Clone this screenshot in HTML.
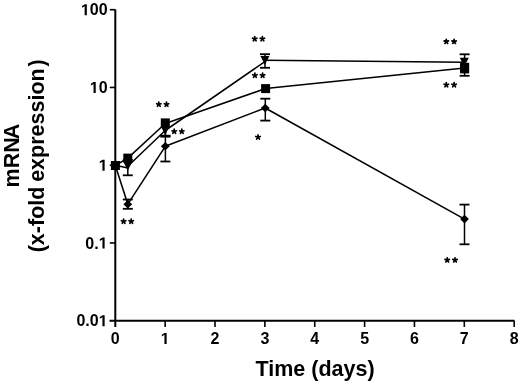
<!DOCTYPE html>
<html><head><meta charset="utf-8"><style>
html,body{margin:0;padding:0;background:#fff;width:520px;height:385px;overflow:hidden}
svg{display:block;will-change:transform}
</style></head><body>
<svg width="520" height="385" viewBox="0 0 520 385">
<rect width="520" height="385" fill="#fff"/>
<g stroke="#000" fill="none">
<line x1="115.3" y1="9.6" x2="115.3" y2="327" stroke-width="2"/>
<line x1="109.5" y1="320.8" x2="514.5" y2="320.8" stroke-width="2"/>
<line x1="109.8" y1="9.70" x2="115.3" y2="9.70" stroke-width="1.6"/>
<line x1="109.8" y1="87.45" x2="115.3" y2="87.45" stroke-width="1.6"/>
<line x1="109.8" y1="165.20" x2="115.3" y2="165.20" stroke-width="1.6"/>
<line x1="109.8" y1="242.95" x2="115.3" y2="242.95" stroke-width="1.6"/>
<line x1="165.16" y1="320.8" x2="165.16" y2="327" stroke-width="1.6"/>
<line x1="215.02" y1="320.8" x2="215.02" y2="327" stroke-width="1.6"/>
<line x1="264.88" y1="320.8" x2="264.88" y2="327" stroke-width="1.6"/>
<line x1="314.74" y1="320.8" x2="314.74" y2="327" stroke-width="1.6"/>
<line x1="364.60" y1="320.8" x2="364.60" y2="327" stroke-width="1.6"/>
<line x1="414.46" y1="320.8" x2="414.46" y2="327" stroke-width="1.6"/>
<line x1="464.32" y1="320.8" x2="464.32" y2="327" stroke-width="1.6"/>
<line x1="514.18" y1="320.8" x2="514.18" y2="327" stroke-width="1.6"/>
</g>
<g stroke="#000" fill="none" stroke-width="1.55" stroke-linejoin="round">
<polyline points="115.30,165.30 127.80,167.90"/>
<polyline points="127.80,166.20 165.20,130.50 264.90,61.60"/>
<polyline points="264.90,60.20 464.30,62.20"/>
<polyline points="115.40,165.50 127.80,158.10 165.30,123.50 265.60,88.60 464.60,68.00"/>
<polyline points="115.30,165.30 127.80,204.20 165.30,146.30 265.20,108.00 464.50,219.10"/>
</g>
<g stroke="#000" stroke-width="1.5">
<line x1="127.8" y1="160.0" x2="127.8" y2="175.3"/>
<line x1="122.80" y1="160.0" x2="132.80" y2="160.0" stroke-width="1.8"/>
<line x1="122.80" y1="175.3" x2="132.80" y2="175.3" stroke-width="1.8"/>
<line x1="127.8" y1="199.5" x2="127.8" y2="208.8"/>
<line x1="122.80" y1="199.5" x2="132.80" y2="199.5" stroke-width="1.8"/>
<line x1="122.80" y1="208.8" x2="132.80" y2="208.8" stroke-width="1.8"/>
<line x1="165.4" y1="135.9" x2="165.4" y2="161.5"/>
<line x1="160.40" y1="135.9" x2="170.40" y2="135.9" stroke-width="1.8"/>
<line x1="160.40" y1="161.5" x2="170.40" y2="161.5" stroke-width="1.8"/>
<line x1="165.4" y1="130.0" x2="165.4" y2="135.7"/>
<line x1="160.40" y1="135.7" x2="170.40" y2="135.7" stroke-width="1.8"/>
<line x1="165.4" y1="130.0" x2="165.4" y2="136.7"/>
<line x1="160.40" y1="136.7" x2="170.40" y2="136.7" stroke-width="1.8"/>
<line x1="265.0" y1="54.2" x2="265.0" y2="67.8"/>
<line x1="260.00" y1="54.2" x2="270.00" y2="54.2" stroke-width="1.8"/>
<line x1="260.00" y1="67.8" x2="270.00" y2="67.8" stroke-width="1.8"/>
<line x1="265.3" y1="98.7" x2="265.3" y2="120.6"/>
<line x1="260.30" y1="98.7" x2="270.30" y2="98.7" stroke-width="1.8"/>
<line x1="260.30" y1="120.6" x2="270.30" y2="120.6" stroke-width="1.8"/>
<line x1="464.6" y1="54.3" x2="464.6" y2="75.8"/>
<line x1="459.60" y1="54.3" x2="469.60" y2="54.3" stroke-width="1.8"/>
<line x1="459.60" y1="75.8" x2="469.60" y2="75.8" stroke-width="1.8"/>
<line x1="464.5" y1="204.6" x2="464.5" y2="244.3"/>
<line x1="459.50" y1="204.6" x2="469.50" y2="204.6" stroke-width="1.8"/>
<line x1="459.50" y1="244.3" x2="469.50" y2="244.3" stroke-width="1.8"/>
</g>
<g fill="#000">
<path d="M110.80,160.90L119.80,160.90L115.30,169.70Z"/>
<path d="M123.30,161.80L132.30,161.80L127.80,170.60Z"/>
<path d="M160.70,126.10L169.70,126.10L165.20,134.90Z"/>
<path d="M260.40,55.90L269.40,55.90L264.90,64.70Z"/>
<path d="M459.80,57.80L468.80,57.80L464.30,66.60Z"/>
<rect x="460.1" y="62.8" width="9" height="10.6"/>
<rect x="110.90" y="161.00" width="9.0" height="9.0"/>
<rect x="123.30" y="153.60" width="9.0" height="9.0"/>
<rect x="160.80" y="118.40" width="9.0" height="9.0"/>
<rect x="261.10" y="84.10" width="9.0" height="9.0"/>
<rect x="460.10" y="63.50" width="9.0" height="9.0"/>
<path d="M110.90,165.30L115.30,161.00L119.70,165.30L115.30,169.60Z"/>
<path d="M123.40,204.20L127.80,199.90L132.20,204.20L127.80,208.50Z"/>
<path d="M160.90,146.30L165.30,142.00L169.70,146.30L165.30,150.60Z"/>
<path d="M260.80,108.00L265.20,103.70L269.60,108.00L265.20,112.30Z"/>
<path d="M460.10,219.10L464.50,214.80L468.90,219.10L464.50,223.40Z"/>
</g>
<g font-family="Liberation Sans, sans-serif" font-weight="bold" fill="#000">
<text y="15.30" font-size="16"><tspan x="89.80">0</tspan><tspan x="98.70">0</tspan></text>
<text y="93.05" font-size="16"><tspan x="98.70">0</tspan></text>
<text y="248.55" font-size="16"><tspan x="85.36">0</tspan><tspan x="94.26">.</tspan></text>
<text y="326.30" font-size="16"><tspan x="76.46">0</tspan><tspan x="85.36">.</tspan><tspan x="89.80">0</tspan></text>
<text y="344.00" font-size="16"><tspan x="110.85">0</tspan></text>
<text y="344.00" font-size="16"><tspan x="210.57">2</tspan></text>
<text y="344.00" font-size="16"><tspan x="260.43">3</tspan></text>
<text y="344.00" font-size="16"><tspan x="310.29">4</tspan></text>
<text y="344.00" font-size="16"><tspan x="360.15">5</tspan></text>
<text y="344.00" font-size="16"><tspan x="410.01">6</tspan></text>
<text y="344.00" font-size="16"><tspan x="459.87">7</tspan></text>
<text y="344.00" font-size="16"><tspan x="509.73">8</tspan></text>
<text x="315" y="375.6" font-size="21.5" text-anchor="middle">Time (days)</text>
<text transform="translate(19,187.45) rotate(-90)" font-size="21.5">mRN<tspan dx="-2">A</tspan></text>
<text transform="translate(43.5,252.3) rotate(-90)" font-size="21.5">(x-fold<tspan dx="-1.2"> expression</tspan><tspan dx="1.8">)</tspan></text>
</g>
<path fill="#000" d="M84.64,15.30 L84.64,6.16 L82.00,7.81 L82.00,6.08 L84.76,4.29 L86.83,4.29 L86.83,15.30Z"/>
<path fill="#000" d="M93.54,93.05 L93.54,83.91 L90.90,85.56 L90.90,83.83 L93.65,82.04 L95.73,82.04 L95.73,93.05Z"/>
<path fill="#000" d="M102.44,170.80 L102.44,161.66 L99.80,163.31 L99.80,161.58 L102.55,159.79 L104.63,159.79 L104.63,170.80Z"/>
<path fill="#000" d="M102.44,248.55 L102.44,239.41 L99.80,241.06 L99.80,239.33 L102.55,237.54 L104.63,237.54 L104.63,248.55Z"/>
<path fill="#000" d="M102.44,326.30 L102.44,317.16 L99.80,318.81 L99.80,317.08 L102.55,315.29 L104.63,315.29 L104.63,326.30Z"/>
<path fill="#000" d="M164.45,344.00 L164.45,334.86 L161.80,336.51 L161.80,334.78 L164.56,332.99 L166.64,332.99 L166.64,344.00Z"/>
<g stroke="#000" stroke-width="1.7" stroke-linecap="round" fill="none">
<path d="M123.60,221.40L123.60,219.10M123.60,221.40L125.79,220.69M123.60,221.40L124.95,223.26M123.60,221.40L122.25,223.26M123.60,221.40L121.41,220.69"/>
<path d="M131.20,221.40L131.20,219.10M131.20,221.40L133.39,220.69M131.20,221.40L132.55,223.26M131.20,221.40L129.85,223.26M131.20,221.40L129.01,220.69"/>
<path d="M158.80,104.40L158.80,102.10M158.80,104.40L160.99,103.69M158.80,104.40L160.15,106.26M158.80,104.40L157.45,106.26M158.80,104.40L156.61,103.69"/>
<path d="M166.50,104.40L166.50,102.10M166.50,104.40L168.69,103.69M166.50,104.40L167.85,106.26M166.50,104.40L165.15,106.26M166.50,104.40L164.31,103.69"/>
<path d="M174.20,131.50L174.20,129.20M174.20,131.50L176.39,130.79M174.20,131.50L175.55,133.36M174.20,131.50L172.85,133.36M174.20,131.50L172.01,130.79"/>
<path d="M181.80,131.50L181.80,129.20M181.80,131.50L183.99,130.79M181.80,131.50L183.15,133.36M181.80,131.50L180.45,133.36M181.80,131.50L179.61,130.79"/>
<path d="M254.70,38.90L254.70,36.60M254.70,38.90L256.89,38.19M254.70,38.90L256.05,40.76M254.70,38.90L253.35,40.76M254.70,38.90L252.51,38.19"/>
<path d="M262.40,38.90L262.40,36.60M262.40,38.90L264.59,38.19M262.40,38.90L263.75,40.76M262.40,38.90L261.05,40.76M262.40,38.90L260.21,38.19"/>
<path d="M254.90,75.40L254.90,73.10M254.90,75.40L257.09,74.69M254.90,75.40L256.25,77.26M254.90,75.40L253.55,77.26M254.90,75.40L252.71,74.69"/>
<path d="M262.60,75.40L262.60,73.10M262.60,75.40L264.79,74.69M262.60,75.40L263.95,77.26M262.60,75.40L261.25,77.26M262.60,75.40L260.41,74.69"/>
<path d="M258.00,137.20L258.00,134.90M258.00,137.20L260.19,136.49M258.00,137.20L259.35,139.06M258.00,137.20L256.65,139.06M258.00,137.20L255.81,136.49"/>
<path d="M446.30,41.60L446.30,39.30M446.30,41.60L448.49,40.89M446.30,41.60L447.65,43.46M446.30,41.60L444.95,43.46M446.30,41.60L444.11,40.89"/>
<path d="M454.10,41.60L454.10,39.30M454.10,41.60L456.29,40.89M454.10,41.60L455.45,43.46M454.10,41.60L452.75,43.46M454.10,41.60L451.91,40.89"/>
<path d="M446.30,84.90L446.30,82.60M446.30,84.90L448.49,84.19M446.30,84.90L447.65,86.76M446.30,84.90L444.95,86.76M446.30,84.90L444.11,84.19"/>
<path d="M454.10,84.90L454.10,82.60M454.10,84.90L456.29,84.19M454.10,84.90L455.45,86.76M454.10,84.90L452.75,86.76M454.10,84.90L451.91,84.19"/>
<path d="M447.20,260.10L447.20,257.80M447.20,260.10L449.39,259.39M447.20,260.10L448.55,261.96M447.20,260.10L445.85,261.96M447.20,260.10L445.01,259.39"/>
<path d="M455.00,260.10L455.00,257.80M455.00,260.10L457.19,259.39M455.00,260.10L456.35,261.96M455.00,260.10L453.65,261.96M455.00,260.10L452.81,259.39"/>
</g>
</svg>
</body></html>
